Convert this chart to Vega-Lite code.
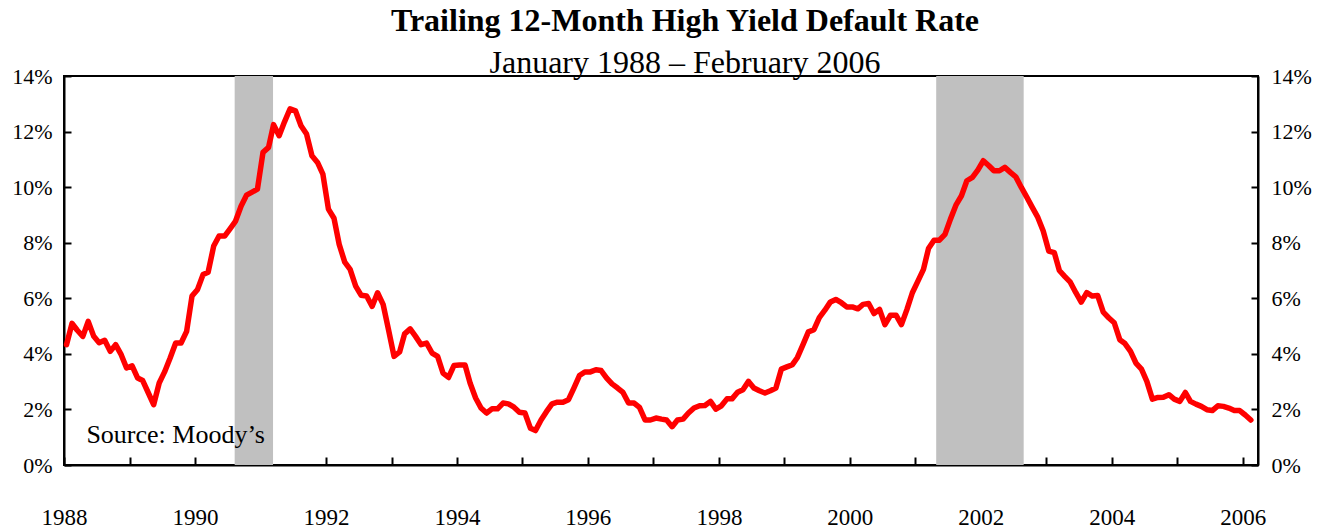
{
  "$schema": "https://vega.github.io/schema/vega-lite/v6.json",
  "width": 1194,
  "height": 389,
  "autosize": "none",
  "padding": {"left": 64, "top": 76, "right": 73, "bottom": 64},
  "background": "white",
  "title": {
    "text": "Trailing 12-Month High Yield Default Rate",
    "subtitle": "January 1988 – February 2006",
    "font": "Liberation Serif",
    "fontSize": 32,
    "fontWeight": "bold",
    "color": "black",
    "subtitleFont": "Liberation Serif",
    "subtitleFontSize": 32,
    "subtitleColor": "black",
    "subtitlePadding": 10,
    "anchor": "middle",
    "dx": 24,
    "offset": -15
  },
  "config": {
    "view": {"stroke": "black", "strokeWidth": 2},
    "axis": {
      "labelFont": "Liberation Serif",
      "labelColor": "black",
      "domainColor": "black",
      "domainWidth": 2,
      "tickColor": "black",
      "tickWidth": 2,
      "grid": false
    }
  },
  "datasets": {
    "rate": [
      {"date":"1988-01-15","rate":4.33},{"date":"1988-02-15","rate":5.1},{"date":"1988-03-15","rate":4.85},{"date":"1988-04-15","rate":4.63},{"date":"1988-05-15","rate":5.17},{"date":"1988-06-15","rate":4.63},{"date":"1988-07-15","rate":4.4},{"date":"1988-08-15","rate":4.49},{"date":"1988-09-15","rate":4.09},{"date":"1988-10-15","rate":4.33},{"date":"1988-11-15","rate":3.97},{"date":"1988-12-15","rate":3.49},
      {"date":"1989-01-15","rate":3.57},{"date":"1989-02-15","rate":3.13},{"date":"1989-03-15","rate":3.04},{"date":"1989-04-15","rate":2.6},{"date":"1989-05-15","rate":2.17},{"date":"1989-06-15","rate":2.95},{"date":"1989-07-15","rate":3.35},{"date":"1989-08-15","rate":3.85},{"date":"1989-09-15","rate":4.39},{"date":"1989-10-15","rate":4.39},{"date":"1989-11-15","rate":4.81},{"date":"1989-12-15","rate":6.08},
      {"date":"1990-01-15","rate":6.32},{"date":"1990-02-15","rate":6.86},{"date":"1990-03-15","rate":6.94},{"date":"1990-04-15","rate":7.88},{"date":"1990-05-15","rate":8.24},{"date":"1990-06-15","rate":8.24},{"date":"1990-07-15","rate":8.5},{"date":"1990-08-15","rate":8.78},{"date":"1990-09-15","rate":9.32},{"date":"1990-10-15","rate":9.71},{"date":"1990-11-15","rate":9.82},{"date":"1990-12-15","rate":9.93},
      {"date":"1991-01-15","rate":11.25},{"date":"1991-02-15","rate":11.43},{"date":"1991-03-15","rate":12.25},{"date":"1991-04-15","rate":11.85},{"date":"1991-05-15","rate":12.35},{"date":"1991-06-15","rate":12.82},{"date":"1991-07-15","rate":12.75},{"date":"1991-08-15","rate":12.21},{"date":"1991-09-15","rate":11.91},{"date":"1991-10-15","rate":11.13},{"date":"1991-11-15","rate":10.89},{"date":"1991-12-15","rate":10.47},
      {"date":"1992-01-15","rate":9.21},{"date":"1992-02-15","rate":8.88},{"date":"1992-03-15","rate":7.94},{"date":"1992-04-15","rate":7.3},{"date":"1992-05-15","rate":7.04},{"date":"1992-06-15","rate":6.44},{"date":"1992-07-15","rate":6.11},{"date":"1992-08-15","rate":6.08},{"date":"1992-09-15","rate":5.71},{"date":"1992-10-15","rate":6.2},{"date":"1992-11-15","rate":5.78},{"date":"1992-12-15","rate":4.87},
      {"date":"1993-01-15","rate":3.91},{"date":"1993-02-15","rate":4.07},{"date":"1993-03-15","rate":4.72},{"date":"1993-04-15","rate":4.9},{"date":"1993-05-15","rate":4.63},{"date":"1993-06-15","rate":4.33},{"date":"1993-07-15","rate":4.39},{"date":"1993-08-15","rate":4.03},{"date":"1993-09-15","rate":3.91},{"date":"1993-10-15","rate":3.31},{"date":"1993-11-15","rate":3.15},{"date":"1993-12-15","rate":3.58},
      {"date":"1994-01-15","rate":3.6},{"date":"1994-02-15","rate":3.6},{"date":"1994-03-15","rate":2.95},{"date":"1994-04-15","rate":2.41},{"date":"1994-05-15","rate":2.05},{"date":"1994-06-15","rate":1.87},{"date":"1994-07-15","rate":2.02},{"date":"1994-08-15","rate":2.02},{"date":"1994-09-15","rate":2.23},{"date":"1994-10-15","rate":2.2},{"date":"1994-11-15","rate":2.08},{"date":"1994-12-15","rate":1.9},
      {"date":"1995-01-15","rate":1.87},{"date":"1995-02-15","rate":1.32},{"date":"1995-03-15","rate":1.24},{"date":"1995-04-15","rate":1.62},{"date":"1995-05-15","rate":1.92},{"date":"1995-06-15","rate":2.2},{"date":"1995-07-15","rate":2.26},{"date":"1995-08-15","rate":2.26},{"date":"1995-09-15","rate":2.35},{"date":"1995-10-15","rate":2.77},{"date":"1995-11-15","rate":3.22},{"date":"1995-12-15","rate":3.35},
      {"date":"1996-01-15","rate":3.35},{"date":"1996-02-15","rate":3.43},{"date":"1996-03-15","rate":3.4},{"date":"1996-04-15","rate":3.13},{"date":"1996-05-15","rate":2.92},{"date":"1996-06-15","rate":2.77},{"date":"1996-07-15","rate":2.61},{"date":"1996-08-15","rate":2.23},{"date":"1996-09-15","rate":2.23},{"date":"1996-10-15","rate":2.07},{"date":"1996-11-15","rate":1.62},{"date":"1996-12-15","rate":1.62},
      {"date":"1997-01-15","rate":1.69},{"date":"1997-02-15","rate":1.65},{"date":"1997-03-15","rate":1.62},{"date":"1997-04-15","rate":1.38},{"date":"1997-05-15","rate":1.62},{"date":"1997-06-15","rate":1.65},{"date":"1997-07-15","rate":1.87},{"date":"1997-08-15","rate":2.05},{"date":"1997-09-15","rate":2.13},{"date":"1997-10-15","rate":2.14},{"date":"1997-11-15","rate":2.29},{"date":"1997-12-15","rate":2.01},
      {"date":"1998-01-15","rate":2.13},{"date":"1998-02-15","rate":2.38},{"date":"1998-03-15","rate":2.38},{"date":"1998-04-15","rate":2.62},{"date":"1998-05-15","rate":2.71},{"date":"1998-06-15","rate":3.01},{"date":"1998-07-15","rate":2.77},{"date":"1998-08-15","rate":2.67},{"date":"1998-09-15","rate":2.59},{"date":"1998-10-15","rate":2.67},{"date":"1998-11-15","rate":2.77},{"date":"1998-12-15","rate":3.45},
      {"date":"1999-01-15","rate":3.53},{"date":"1999-02-15","rate":3.61},{"date":"1999-03-15","rate":3.87},{"date":"1999-04-15","rate":4.33},{"date":"1999-05-15","rate":4.79},{"date":"1999-06-15","rate":4.87},{"date":"1999-07-15","rate":5.3},{"date":"1999-08-15","rate":5.57},{"date":"1999-09-15","rate":5.87},{"date":"1999-10-15","rate":5.96},{"date":"1999-11-15","rate":5.84},{"date":"1999-12-15","rate":5.69},
      {"date":"2000-01-15","rate":5.69},{"date":"2000-02-15","rate":5.62},{"date":"2000-03-15","rate":5.78},{"date":"2000-04-15","rate":5.81},{"date":"2000-05-15","rate":5.45},{"date":"2000-06-15","rate":5.6},{"date":"2000-07-15","rate":5.05},{"date":"2000-08-15","rate":5.39},{"date":"2000-09-15","rate":5.39},{"date":"2000-10-15","rate":5.05},{"date":"2000-11-15","rate":5.6},{"date":"2000-12-15","rate":6.2},
      {"date":"2001-01-15","rate":6.62},{"date":"2001-02-15","rate":7.04},{"date":"2001-03-15","rate":7.79},{"date":"2001-04-15","rate":8.09},{"date":"2001-05-15","rate":8.09},{"date":"2001-06-15","rate":8.3},{"date":"2001-07-15","rate":8.84},{"date":"2001-08-15","rate":9.35},{"date":"2001-09-15","rate":9.69},{"date":"2001-10-15","rate":10.23},{"date":"2001-11-15","rate":10.35},{"date":"2001-12-15","rate":10.61},
      {"date":"2002-01-15","rate":10.95},{"date":"2002-02-15","rate":10.77},{"date":"2002-03-15","rate":10.59},{"date":"2002-04-15","rate":10.59},{"date":"2002-05-15","rate":10.71},{"date":"2002-06-15","rate":10.53},{"date":"2002-07-15","rate":10.37},{"date":"2002-08-15","rate":9.99},{"date":"2002-09-15","rate":9.63},{"date":"2002-10-15","rate":9.27},{"date":"2002-11-15","rate":8.91},{"date":"2002-12-15","rate":8.42},
      {"date":"2003-01-15","rate":7.7},{"date":"2003-02-15","rate":7.64},{"date":"2003-03-15","rate":7.0},{"date":"2003-04-15","rate":6.78},{"date":"2003-05-15","rate":6.58},{"date":"2003-06-15","rate":6.2},{"date":"2003-07-15","rate":5.86},{"date":"2003-08-15","rate":6.2},{"date":"2003-09-15","rate":6.08},{"date":"2003-10-15","rate":6.1},{"date":"2003-11-15","rate":5.5},{"date":"2003-12-15","rate":5.3},
      {"date":"2004-01-15","rate":5.12},{"date":"2004-02-15","rate":4.51},{"date":"2004-03-15","rate":4.37},{"date":"2004-04-15","rate":4.09},{"date":"2004-05-15","rate":3.67},{"date":"2004-06-15","rate":3.45},{"date":"2004-07-15","rate":3.01},{"date":"2004-08-15","rate":2.37},{"date":"2004-09-15","rate":2.43},{"date":"2004-10-15","rate":2.44},{"date":"2004-11-15","rate":2.53},{"date":"2004-12-15","rate":2.37},
      {"date":"2005-01-15","rate":2.29},{"date":"2005-02-15","rate":2.61},{"date":"2005-03-15","rate":2.29},{"date":"2005-04-15","rate":2.19},{"date":"2005-05-15","rate":2.11},{"date":"2005-06-15","rate":1.99},{"date":"2005-07-15","rate":1.96},{"date":"2005-08-15","rate":2.13},{"date":"2005-09-15","rate":2.11},{"date":"2005-10-15","rate":2.05},{"date":"2005-11-15","rate":1.96},{"date":"2005-12-15","rate":1.96},
      {"date":"2006-01-15","rate":1.8},{"date":"2006-02-15","rate":1.62}
    ],
    "recessions": [
      {"date": "1990-08-10", "end": "1991-03-12"},
      {"date": "2001-04-27", "end": "2002-08-28"}
    ],
    "note": [
      {"label": "Source: Moody’s", "date": "1988-05-05", "rate": 1.08}
    ]
  },
  "encoding": {
    "x": {
      "field": "date",
      "type": "temporal",
      "scale": {
        "type": "utc",
        "domain": [
          {"year": 1988, "month": 1, "date": 1, "utc": true},
          {"year": 2006, "month": 3, "date": 27, "utc": true}
        ]
      },
      "axis": {
        "title": null,
        "values": [
          {"year": 1988, "utc": true}, {"year": 1989, "utc": true}, {"year": 1990, "utc": true},
          {"year": 1991, "utc": true}, {"year": 1992, "utc": true}, {"year": 1993, "utc": true},
          {"year": 1994, "utc": true}, {"year": 1995, "utc": true}, {"year": 1996, "utc": true},
          {"year": 1997, "utc": true}, {"year": 1998, "utc": true}, {"year": 1999, "utc": true},
          {"year": 2000, "utc": true}, {"year": 2001, "utc": true}, {"year": 2002, "utc": true},
          {"year": 2003, "utc": true}, {"year": 2004, "utc": true}, {"year": 2005, "utc": true},
          {"year": 2006, "utc": true}
        ],
        "labelExpr": "utcyear(datum.value) % 2 == 0 ? utcFormat(datum.value, '%Y') : ''",
        "labelFontSize": 23,
        "labelFlush": false,
        "labelOverlap": false,
        "labelBound": false,
        "tickSize": -8,
        "labelPadding": 49
      }
    }
  },
  "layer": [
    {
      "data": {"name": "recessions"},
      "mark": {"type": "rect", "color": "#C0C0C0"},
      "encoding": {"x2": {"field": "end"}}
    },
    {
      "data": {"name": "rate"},
      "mark": {"type": "line", "color": "#FF0000", "strokeWidth": 5.5, "strokeJoin": "round", "strokeCap": "round"},
      "encoding": {
        "y": {
          "field": "rate",
          "type": "quantitative",
          "scale": {"domain": [0, 14], "nice": false},
          "axis": {
            "title": null,
            "orient": "left",
            "values": [0, 2, 4, 6, 8, 10, 12, 14],
            "labelExpr": "datum.value + '%'",
            "labelFontSize": 22,
            "tickSize": -7,
            "labelPadding": 19
          }
        }
      }
    },
    {
      "data": {"name": "note"},
      "mark": {"type": "text", "font": "Liberation Serif", "fontSize": 26, "align": "left", "baseline": "middle", "color": "black"},
      "encoding": {
        "y": {
          "field": "rate",
          "type": "quantitative",
          "axis": {
            "title": null,
            "orient": "right",
            "values": [0, 2, 4, 6, 8, 10, 12, 14],
            "labelExpr": "datum.value + '%'",
            "labelFontSize": 22,
            "tickSize": -7,
            "labelPadding": 20
          }
        },
        "text": {"field": "label", "type": "nominal"}
      }
    }
  ],
  "resolve": {"axis": {"y": "independent"}}
}
